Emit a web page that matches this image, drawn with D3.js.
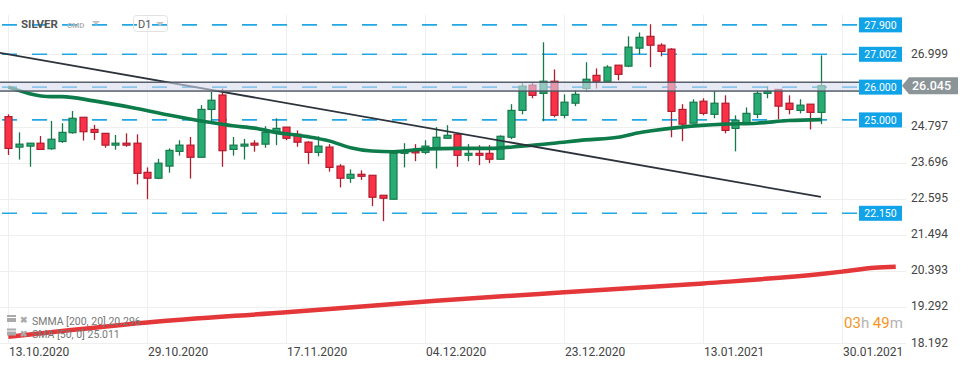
<!DOCTYPE html>
<html lang="en">
<head>
<meta charset="UTF-8">
<title>SILVER D1</title>
<script src="https://d3js.org/d3.v7.min.js"></script>
<style>
    html, body { margin: 0; padding: 0; background: #fff; }
    svg { display: block; font-family: Roboto, "Noto Sans", Arial, sans-serif; }
</style>
</head>
<body>
<div id="chart"></div>
<script>
// candles (index 0 = 13.10.2020)
const open  = [25.10,24.17,24.20,24.29,24.12,24.34,24.61,25.08,24.71,24.59,24.23,24.29,24.29,23.40,23.22,23.59,24.04,24.23,23.86,25.32,
               25.76,24.10,24.20,24.29,24.26,24.62,24.78,24.56,24.32,24.01,24.17,23.59,23.22,23.34,23.31,22.70,22.58,23.98,24.04,24.01,
               24.13,24.44,24.56,23.92,23.98,23.98,23.80,24.47,25.29,26.06,25.81,26.18,25.14,25.51,25.96,26.36,26.18,26.67,26.64,27.19,
               27.55,27.28,27.16,25.32,24.90,25.57,25.17,25.51,24.74,24.87,25.17,25.81,25.93,25.51,25.29,25.48,25.23];
const high  = [25.17,24.62,24.29,24.51,24.97,24.90,25.27,25.08,24.85,24.59,24.54,24.59,24.56,23.55,23.81,24.13,24.38,24.48,25.45,25.86,
               25.96,24.48,24.42,24.38,24.81,25.05,24.78,24.68,24.35,24.50,24.26,23.65,23.49,23.46,23.31,22.70,24.01,24.29,24.26,24.38,
               24.78,24.84,24.56,24.26,24.23,24.23,24.53,25.48,26.12,26.15,27.37,26.54,25.78,25.90,26.76,26.57,26.67,26.67,27.55,27.67,
               27.92,27.34,27.19,25.48,25.63,25.66,25.87,25.75,25.14,25.38,25.87,26.03,25.93,25.75,25.63,25.48,26.97];
const low   = [23.93,23.79,23.57,24.10,24.09,24.30,24.58,24.37,24.39,24.15,24.09,24.18,23.03,22.58,23.19,23.39,23.91,23.21,23.86,24.95,
               23.57,23.91,23.79,24.03,24.15,24.23,24.38,24.18,23.65,23.89,23.42,22.94,23.08,23.17,22.37,21.91,22.58,23.55,23.74,23.95,
               23.52,24.44,23.57,23.74,23.62,23.68,23.80,24.41,25.17,25.66,24.96,25.08,25.05,25.42,25.87,25.96,26.18,26.21,26.61,27.00,
               26.61,26.94,24.47,24.35,24.90,25.14,25.05,24.59,24.04,24.84,25.05,25.66,25.02,25.17,25.20,24.71,24.87];
const close = [24.13,24.26,24.29,24.10,24.41,24.62,25.05,24.64,24.62,24.23,24.29,24.23,23.37,23.22,23.68,24.07,24.23,23.86,25.32,25.60,
               24.06,24.23,24.26,24.23,24.62,24.74,24.44,24.32,24.01,24.20,23.55,23.22,23.34,23.28,22.64,22.61,23.98,24.04,24.01,24.20,
               24.47,24.53,23.92,23.98,23.92,23.80,24.50,25.29,26.03,25.75,26.18,25.14,25.54,25.78,26.24,26.18,26.61,26.39,27.22,27.52,
               27.28,27.09,25.26,24.87,25.54,25.20,25.51,24.68,24.99,25.20,25.81,25.87,25.42,25.32,25.45,25.23,26.045];

// SMA [50, 0]
const smaIdx = [0, 4, 5, 8, 12, 15, 17, 20, 21, 23, 25, 28, 30, 32, 34, 36, 39, 42, 45, 48, 51, 54, 57, 59, 60, 63, 67, 70, 73, 76];
const smaVal = [26.00, 25.71, 25.71, 25.58, 25.35, 25.15, 25.03, 24.87, 24.82, 24.75, 24.62, 24.49, 24.36, 24.15, 24.05, 24.03, 24.11,
                24.13, 24.13, 24.20, 24.29, 24.39, 24.47, 24.61, 24.66, 24.78, 24.87, 24.90, 24.98, 25.01];

// SMMA [200, 20]
const smmaIdx = [0, 13, 26, 40, 52, 65, 76, 78, 81, 83];
const smmaVal = [18.38, 18.82, 19.13, 19.48, 19.74, 20.01, 20.30, 20.37, 20.49, 20.52];

// drawn trend line and zone
const trendIdx = [-1, 76];
const trendVal = [27.06, 22.65];
const zone = [25.88, 26.15];

const levels = [27.900, 27.002, 26.000, 25.000, 22.150];
const priceTicks = [26.999, 25.898, 24.797, 23.696, 22.595, 21.494, 20.393, 19.292, 18.192];
const dateIdx = [0, 13, 26, 39, 52, 65, 78];
const dateLabels = ["13.10.2020", "29.10.2020", "17.11.2020", "04.12.2020", "23.12.2020", "13.01.2021", "30.01.2021"];
const lastPrice = 26.045;

const W = 970, H = 368;
const x = d3.scaleLinear().domain([0, 78]).range([8.3, 842.3]);
const y = d3.scaleLinear().domain([18.192, 27.002]).range([343, 54.3]);

const svg = d3.select("#chart").append("svg")
    .attr("width", W).attr("height", H);
svg.append("rect").attr("width", W).attr("height", H).attr("fill", "#fff");

// grid
svg.append("g").selectAll("line").data(priceTicks).join("line")
    .attr("x1", 0).attr("x2", 906)
    .attr("y1", d => Math.round(y(d)) + 0.5).attr("y2", d => Math.round(y(d)) + 0.5)
    .attr("stroke", "#efefef");
svg.append("g").selectAll("line").data(dateIdx).join("line")
    .attr("x1", d => Math.round(x(d)) + 0.5).attr("x2", d => Math.round(x(d)) + 0.5)
    .attr("y1", 15).attr("y2", 343)
    .attr("stroke", "#efefef");

// horizontal levels
svg.append("g").selectAll("line").data(levels).join("line")
    .attr("x1", 2).attr("x2", 858)
    .attr("y1", d => y(d)).attr("y2", d => y(d))
    .attr("stroke", "#22a7e6").attr("stroke-width", 1.6)
    .attr("stroke-dasharray", "15,15");

// SMMA
svg.append("path")
    .datum(smmaIdx.map((d, i) => [d, smmaVal[i]]))
    .attr("fill", "none").attr("stroke", "#e3373a").attr("stroke-width", 4.5)
    .attr("stroke-linejoin", "round")
    .attr("d", d3.line().x(d => x(d[0])).y(d => y(d[1])).curve(d3.curveMonotoneX));

// candles
const bw = 7;
const cg = svg.append("g");
open.forEach((o, i) => {
    const c = close[i];
    const up = c >= o;
    const wick = up ? "#17794b" : "#b01d2f";
    const fill = up ? "#27ad73" : "#fb3148";
    const cx = Math.round(x(i)) + 0.5;
    cg.append("line")
        .attr("x1", cx).attr("x2", cx)
        .attr("y1", y(high[i])).attr("y2", y(low[i]))
        .attr("stroke", wick).attr("stroke-width", 1.3);
    const top = y(Math.max(o, c)), bot = y(Math.min(o, c));
    cg.append("rect")
        .attr("x", cx - bw / 2).attr("y", top)
        .attr("width", bw).attr("height", Math.max(bot - top, 1.5))
        .attr("fill", fill).attr("stroke", wick).attr("stroke-width", 1.2);
});

// SMA
svg.append("path")
    .datum(smaIdx.map((d, i) => [d, smaVal[i]]))
    .attr("fill", "none").attr("stroke", "#0e7b4b").attr("stroke-width", 3.6)
    .attr("stroke-linejoin", "round")
    .attr("d", d3.line().x(d => x(d[0])).y(d => y(d[1])).curve(d3.curveMonotoneX));

// trend line
svg.append("line")
    .attr("x1", x(trendIdx[0])).attr("y1", y(trendVal[0]))
    .attr("x2", x(trendIdx[1])).attr("y2", y(trendVal[1]))
    .attr("stroke", "#2c333b").attr("stroke-width", 1.8);

// zone
svg.append("rect")
    .attr("x", -2).attr("y", y(zone[1]))
    .attr("width", 865).attr("height", y(zone[0]) - y(zone[1]))
    .attr("fill", "#d7dbef").attr("fill-opacity", 0.6)
    .attr("stroke", "#4b5561").attr("stroke-width", 1.4);

// level labels
const lg = svg.append("g");
levels.forEach(v => {
    lg.append("rect")
        .attr("x", 859).attr("y", y(v) - 7.5)
        .attr("width", 43).attr("height", 15)
        .attr("fill", "#10a3e8");
    lg.append("text")
        .attr("x", 880.5).attr("y", y(v) + 3.8)
        .attr("text-anchor", "middle")
        .attr("font-size", 10.5).attr("fill", "#fff")
        .text(v.toFixed(3));
});

// price axis (the tick under the last-price tag is hidden, as in the platform)
const ly = y(lastPrice);
svg.append("g").selectAll("text")
    .data(priceTicks.filter(d => Math.abs(y(d) - ly) > 12)).join("text")
    .attr("x", 911).attr("y", d => y(d) + 3.5)
    .attr("font-size", 12).attr("fill", "#444")
    .text(d => d.toFixed(3));

// last price label
svg.append("path")
    .attr("d", `M902,${ly} L909,${ly - 8.5} L958,${ly - 8.5} L958,${ly + 8.5} L909,${ly + 8.5} Z`)
    .attr("fill", "#8b9497");
svg.append("text")
    .attr("x", 912).attr("y", ly + 4.5)
    .attr("font-size", 12.5).attr("font-weight", 500).attr("fill", "#fff")
    .text(lastPrice.toFixed(3));

// date axis
svg.append("g").selectAll("text").data(dateIdx).join("text")
    .attr("x", d => Math.round(x(d)) + 1).attr("y", 355.5)
    .attr("font-size", 12).attr("fill", "#444")
    .text((d, i) => dateLabels[i]);

// header
svg.append("text").attr("x", 21).attr("y", 28)
    .attr("font-size", 11.5).attr("font-weight", "bold").attr("fill", "#555").text("SILVER");
svg.append("text").attr("x", 67).attr("y", 27.5)
    .attr("font-size", 8).attr("font-weight", "bold").attr("fill", "#b5b5b5").text("CMD");
svg.append("path").attr("d", "M92,21 L100,21 L96,25 Z").attr("fill", "#c4c4c4");
svg.append("rect").attr("x", 133.5).attr("y", 15.5).attr("width", 34).attr("height", 16).attr("rx", 3)
    .attr("fill", "none").attr("stroke", "#e2e2e2");
svg.append("text").attr("x", 138).attr("y", 28)
    .attr("font-size", 11).attr("fill", "#555").text("D1");
svg.append("path").attr("d", "M156,22 L164,22 L160,26 Z").attr("fill", "#c4c4c4");

// indicator legend
const legendRows = [["SMMA  [200,  20]  20.296", 321], ["SMA  [50,  0]  25.011", 334.5]];
legendRows.forEach(([t, ly2]) => {
    svg.append("rect").attr("x", 7).attr("y", ly2 - 6).attr("width", 9).attr("height", 2).attr("fill", "#aaa");
    svg.append("rect").attr("x", 7).attr("y", ly2 - 3).attr("width", 9).attr("height", 4).attr("fill", "#aaa");
    svg.append("text").attr("x", 20).attr("y", ly2 + 2)
        .attr("font-size", 9).attr("font-weight", "bold").attr("fill", "#aaa").text("✖");
    svg.append("text").attr("x", 32).attr("y", ly2 + 3.5)
        .attr("font-size", 10.5).attr("fill", "#777").text(t);
});

// time to candle close
const tt = svg.append("text").attr("x", 844).attr("y", 328).attr("font-size", 15);
tt.append("tspan").attr("fill", "#f7941d").text("03");
tt.append("tspan").attr("fill", "#b3b3b3").text("h");
tt.append("tspan").attr("fill", "#f7941d").text(" 49");
tt.append("tspan").attr("fill", "#b3b3b3").text("m");
</script>
</body>
</html>
